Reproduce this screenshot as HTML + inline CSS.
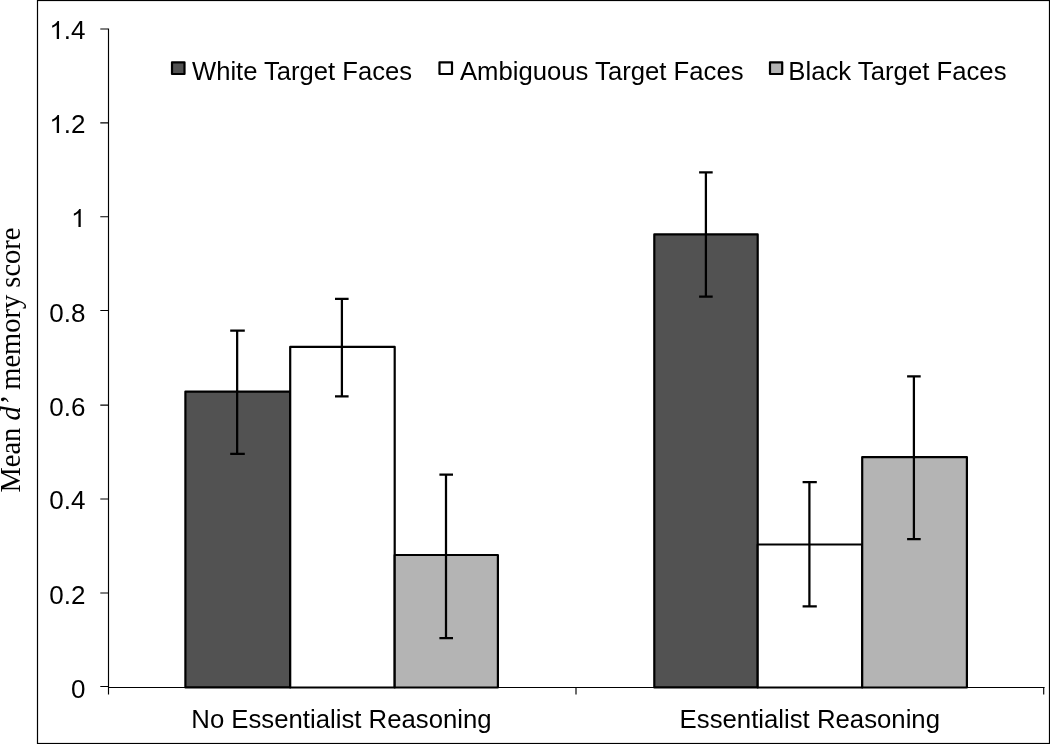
<!DOCTYPE html>
<html>
<head>
<meta charset="utf-8">
<title>Mean d' memory score</title>
<style>
  html, body { margin: 0; padding: 0; background: #ffffff; }
  body { width: 1050px; height: 744px; overflow: hidden; }
  svg { display: block; will-change: transform; }
  .sans { font-family: "Liberation Sans", sans-serif; font-size: 26px; fill: #000; }
  .serif { font-family: "Liberation Serif", serif; font-size: 28.5px; fill: #000; }
</style>
</head>
<body>
<svg width="1050" height="744" viewBox="0 0 1050 744">
  <rect x="0" y="0" width="1050" height="744" fill="#ffffff"/>

  <!-- outer frame -->
  <rect x="37.5" y="0.5" width="1012" height="743" fill="none" stroke="#000" stroke-width="1.2"/>

  <!-- bars -->
  <g stroke="#000" stroke-width="2.2" stroke-linejoin="round">
    <rect x="185.4" y="391.55" width="104.8" height="295.9" fill="#525252"/>
    <rect x="290.2" y="346.9" width="104.5" height="340.6" fill="#ffffff"/>
    <rect x="394.7" y="555.0" width="103.2" height="132.5" fill="#b4b4b4"/>

    <rect x="654.3" y="234.45" width="103.4" height="453" fill="#525252"/>
    <rect x="757.7" y="544.5" width="104.5" height="143" fill="#ffffff"/>
    <rect x="862.2" y="457.1" width="104.7" height="230.4" fill="#b4b4b4"/>
  </g>

  <!-- error bars -->
  <g stroke="#000" stroke-width="2.25" fill="none">
    <path d="M237.15 330.6V453.9M230.2 330.6H244.8M230.2 453.9H244.8"/>
    <path d="M341.9 298.9V396.3M335 298.9H348.6M335 396.3H348.6"/>
    <path d="M446 474.6V638M439.4 474.6H453M439.4 638H453"/>

    <path d="M705.9 172.3V296.7M699.1 172.3H712.7M699.1 296.7H712.7"/>
    <path d="M809.4 482V606.3M802.6 482H816.8M802.6 606.3H816.8"/>
    <path d="M913.9 376.4V539M907.1 376.4H920.7M907.1 539H920.7"/>
  </g>

  <!-- axes -->
  <g stroke="#000" stroke-width="1.15" fill="none">
    <path d="M108.5 28.6V694.5"/>
    <path d="M108 687.5H1044.6"/>
    <path d="M100.3 29H108M100.3 122.9H108M100.3 216.7H108M100.3 310.5H108M100.3 405.1H108M100.3 499H108M100.3 593H108M100.3 686.5H108"/>
    <path d="M576 687.5V694.5M1043.7 687.5V694.5"/>
  </g>

  <!-- y tick labels -->
  <g class="sans" text-anchor="end">
    <text x="85.5" y="39">.4</text>
    <text x="85.5" y="133">.2</text>
    <text x="85.5" y="322">0.8</text>
    <text x="85.5" y="416">0.6</text>
    <text x="85.5" y="509">0.4</text>
    <text x="85.5" y="604">0.2</text>
    <text x="85.5" y="698">0</text>
  </g>
  <!-- digit 1 drawn as a footless glyph -->
  <path d="M763 0H583V1147Q518 1085 412.5 1023Q307 961 223 930V1104Q374 1175 487 1276Q600 1377 647 1472H763Z" transform="translate(49.36 39) scale(0.012695 -0.012228)" fill="#000"/>
  <path d="M763 0H583V1147Q518 1085 412.5 1023Q307 961 223 930V1104Q374 1175 487 1276Q600 1377 647 1472H763Z" transform="translate(49.36 133) scale(0.012695 -0.012228)" fill="#000"/>
  <path d="M763 0H583V1147Q518 1085 412.5 1023Q307 961 223 930V1104Q374 1175 487 1276Q600 1377 647 1472H763Z" transform="translate(71.04 227) scale(0.012695 -0.012228)" fill="#000"/>

  <!-- legend -->
  <g stroke="#000" stroke-width="2.2" stroke-linejoin="round">
    <rect x="172" y="62.3" width="12.5" height="11.7" fill="#525252"/>
    <rect x="439.5" y="62.3" width="12.5" height="11.7" fill="#ffffff"/>
    <rect x="770" y="62.3" width="12.2" height="11.7" fill="#b4b4b4"/>
  </g>
  <g class="sans">
    <text x="192" y="80" textLength="220" lengthAdjust="spacingAndGlyphs">White Target F&#8204;aces</text>
    <text x="460" y="80" textLength="283.5" lengthAdjust="spacingAndGlyphs">Ambiguous Target F&#8204;aces</text>
    <text x="788.3" y="80" textLength="218.2" lengthAdjust="spacingAndGlyphs">Black Target F&#8204;aces</text>
  </g>

  <!-- category labels -->
  <g class="sans">
    <text x="191.3" y="728" textLength="300.3" lengthAdjust="spacingAndGlyphs">No Essentialist Reasoning</text>
    <text x="679.6" y="728" textLength="260.4" lengthAdjust="spacingAndGlyphs">Essentialist Reasoning</text>
  </g>

  <!-- y axis title -->
  <text class="serif" transform="translate(20.3 492.6) scale(1.058 1) rotate(-90)">Mean <tspan font-style="italic">d’</tspan> memory score</text>
</svg>
</body>
</html>
